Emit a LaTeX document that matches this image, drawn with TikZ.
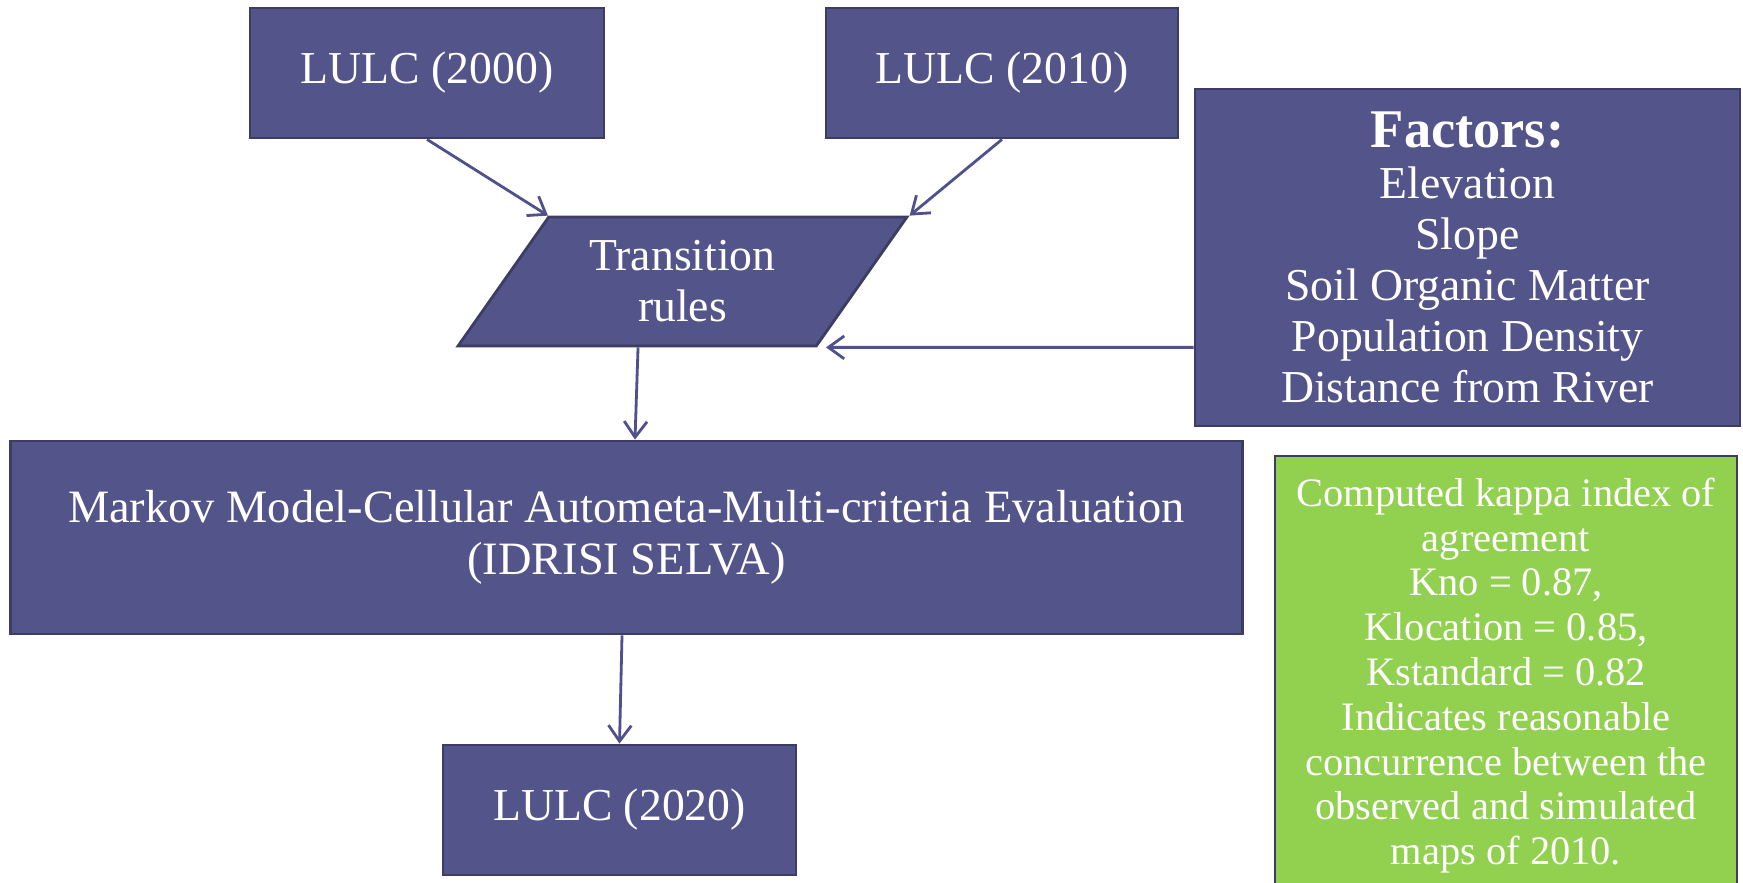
\documentclass[tikz,border=0pt]{standalone}
\usepackage{fontspec}
\setmainfont{Liberation Serif}
\usetikzlibrary{arrows.meta,shapes.geometric}

\definecolor{boxfill}{HTML}{535489}
\definecolor{boxline}{HTML}{3C3C64}
\definecolor{arrowcol}{HTML}{50508C}
\definecolor{kappagreen}{HTML}{92D050}

\tikzset{
  box/.style={shape=rectangle,draw=boxline,fill=boxfill,line width=1.6pt,text=white,
    inner sep=0pt,align=center,font=\fontsize{26}{29}\selectfont},
  link/.style={draw=arrowcol,line width=1.6pt}
}

\begin{document}
\begin{tikzpicture}[x=0.02cm,y=-0.02cm,->,>={Straight Barb[length=9pt,width=13pt]}]
                \useasboundingbox (0, 0) rectangle (1743, 882);
                % inputs
                \node[box,minimum width=7.08cm,minimum height=2.6cm](lulcA)at(427, 73){LULC (2000)};
                \node[box,minimum width=7.04cm,minimum height=2.6cm](lulcB)at(1002, 73){LULC (2010)};
                \node[box,shape=trapezium,trapezium left angle=42,trapezium right angle=138,
                  trapezium stretches body,minimum width=8.98cm,minimum height=2.58cm](rules)at(682.5, 281.5){Transition\\rules};
                \node[box,minimum width=10.9cm,minimum height=6.74cm](factors)at(1467.5, 257.5)
                  {{\fontsize{31}{34}\selectfont\bfseries Factors:}\\Elevation\\Slope\\Soil Organic Matter\\Population Density\\Distance from River};
                % model and output
                \node[box,minimum width=24.66cm,minimum height=3.86cm,font=\fontsize{26.4}{29.5}\selectfont](markov)at(626.5, 537.5)
                  {Markov Model-Cellular Autometa-Multi-criteria Evaluation\\(IDRISI SELVA)};
                \node[box,minimum width=7.06cm,minimum height=2.6cm](lulcC)at(619.5, 810){LULC (2020)};
                \node[box,fill=kappagreen,minimum width=9.24cm,minimum height=8.78cm,
                  font=\fontsize{23}{25.5}\selectfont](kappa)at(1506, 675.5)
                  {Computed kappa index of\\agreement\\Kno = 0.87,\\Klocation = 0.85,\\Kstandard = 0.82\\Indicates reasonable\\concurrence between the\\observed and simulated\\maps of 2010.};
                \path[] (lulcA.south) edge[link] (rules.top left corner)
                (lulcB.south) edge[link] (rules.top right corner)
                (factors.west |- rules.south) edge[link] ([xshift=0.18cm]rules.bottom right corner)
                ([xshift=-0.89cm]rules.south) edge[link] ([xshift=0.17cm]markov.north)
                ([xshift=-0.09cm]markov.south) edge[link] (lulcC.north);
            \end{tikzpicture}
\end{document}
